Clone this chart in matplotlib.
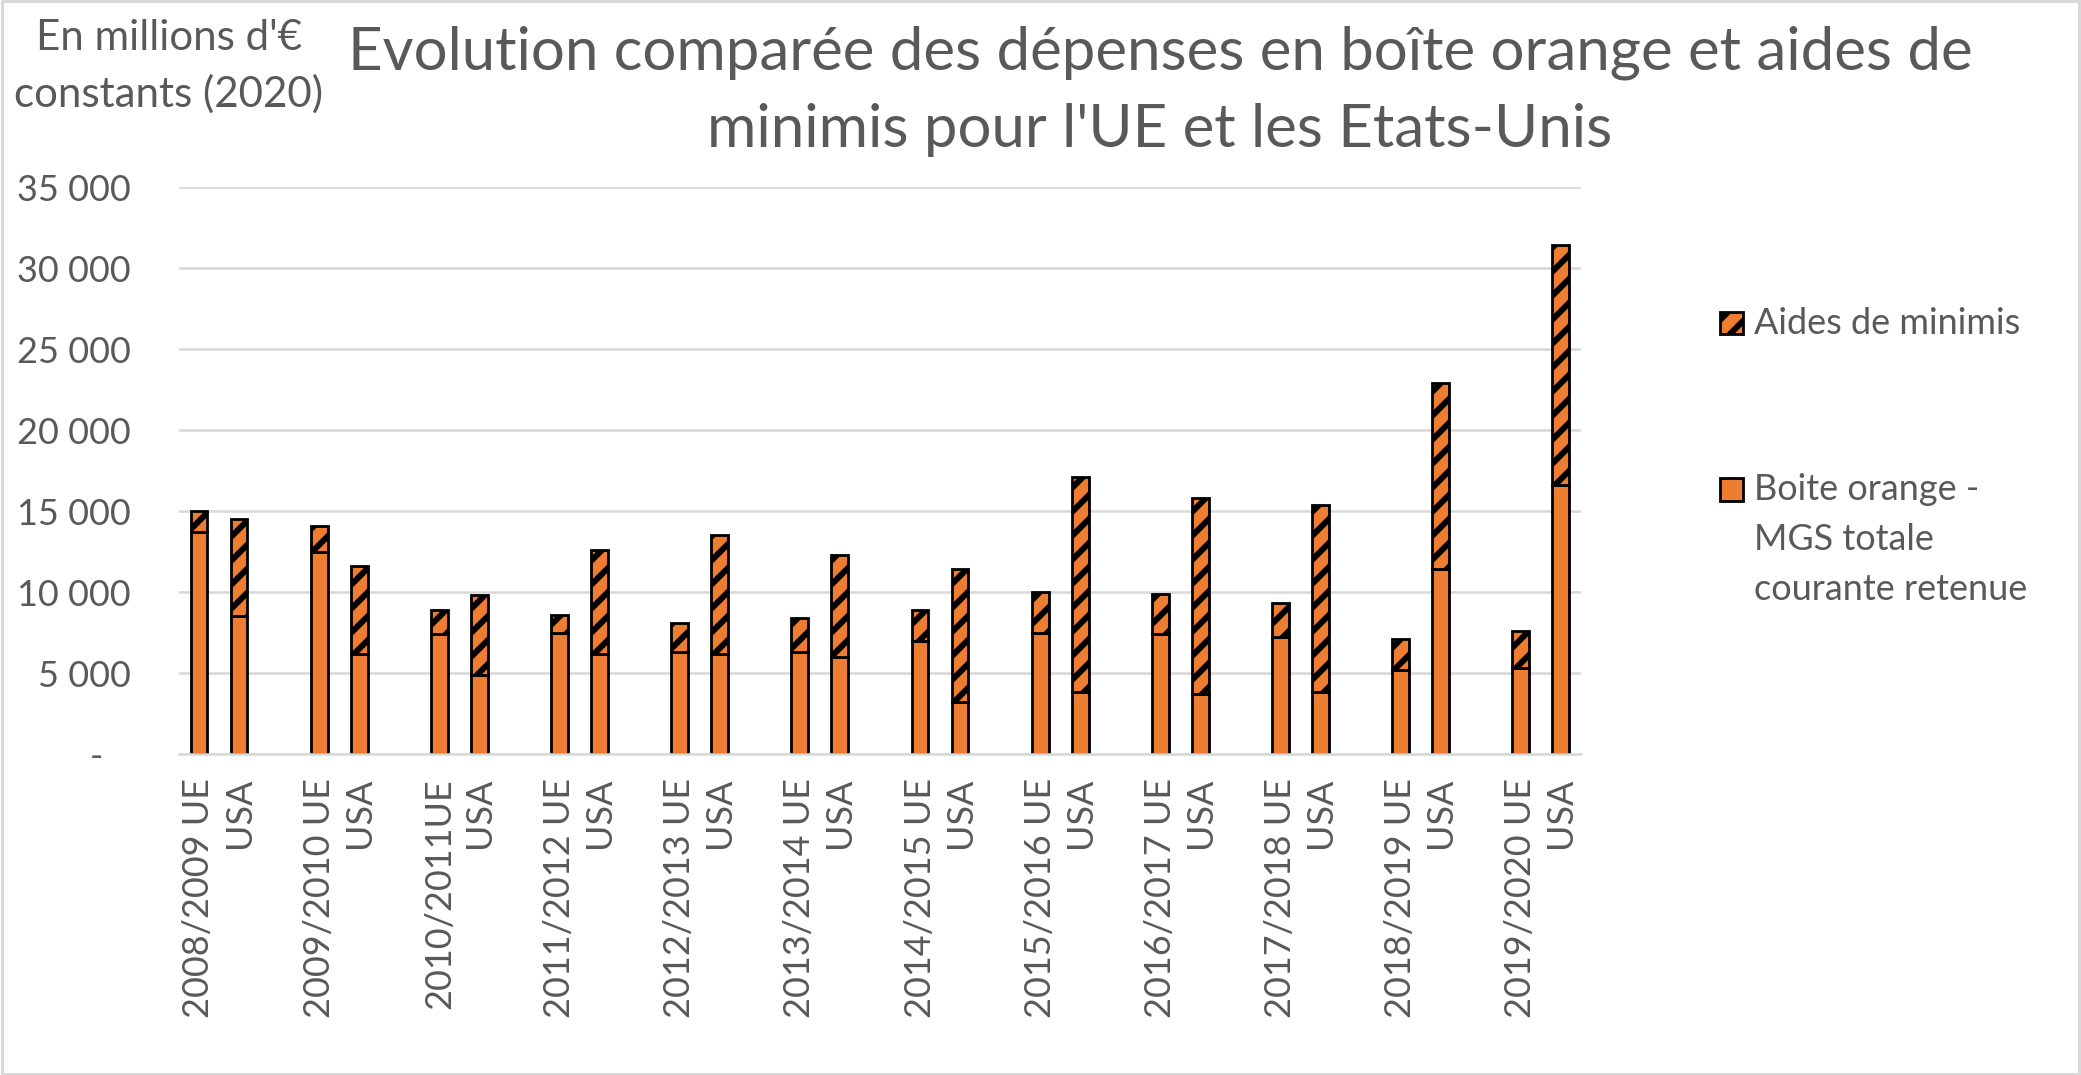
import numpy as np
import matplotlib.pyplot as plt
from matplotlib.patches import Rectangle

# valeurs (millions d'euros constants 2020)
ue_labels = ["2008/2009 UE", "2009/2010 UE", "2010/2011UE", "2011/2012 UE",
             "2012/2013 UE", "2013/2014 UE", "2014/2015 UE", "2015/2016 UE",
             "2016/2017 UE", "2017/2018 UE", "2018/2019 UE", "2019/2020 UE"]
usa_label = "USA"

ue_orange = [13700, 12500, 7400, 7500, 6300, 6300, 7000, 7500, 7400, 7200, 5200, 5300]
ue_minimis = [1300, 1600, 1500, 1100, 1800, 2100, 1900, 2500, 2500, 2100, 1900, 2300]
usa_orange = [8500, 6200, 4900, 6200, 6200, 6000, 3200, 3800, 3700, 3800, 11400, 16600]
usa_minimis = [6000, 5400, 4900, 6400, 7300, 6300, 8200, 13300, 12100, 11600, 11500, 14800]

yticks = [0, 5000, 10000, 15000, 20000, 25000, 30000, 35000]
ytick_labels = ["-   ", "5 000", "10 000", "15 000", "20 000", "25 000", "30 000", "35 000"]

plt.rcParams['font.family'] = ['Lato', 'DejaVu Sans']
plt.rcParams['hatch.linewidth'] = 3.0
plt.rcParams['hatch.color'] = 'black'

grey_txt = '#595959'
grey_line = '#d9d9d9'
orange = '#ED7D31'

DPI = 144
fig = plt.figure(figsize=(2081 / DPI, 1075 / DPI), dpi=DPI)
ax = fig.add_axes([0.086, 0.2986, 0.6737, 0.5274])

n = len(ue_labels)
x_ue = np.arange(n) * 3
x_usa = x_ue + 1
w = 0.42

ax.bar(x_ue, ue_orange, w, color=orange, edgecolor='black', lw=1.4)
ax.bar(x_ue, ue_minimis, w, bottom=ue_orange, color=orange, edgecolor='black', lw=1.4, hatch='//')
ax.bar(x_usa, usa_orange, w, color=orange, edgecolor='black', lw=1.4)
ax.bar(x_usa, usa_minimis, w, bottom=usa_orange, color=orange, edgecolor='black', lw=1.4, hatch='//')

# etiquettes : UE, USA, vide
xlabels = []
for lab in ue_labels:
    xlabels += [lab, usa_label, ""]
xlabels = xlabels[:-1]
ax.set_xticks(np.arange(len(xlabels)))
ax.set_xticklabels(xlabels, rotation=90, va='top', ha='center')
ax.set_xlim(-0.5, len(xlabels) - 0.5)

ax.set_ylim(0, 35000)
ax.set_yticks(yticks)
ax.set_yticklabels(ytick_labels)
ax.yaxis.grid(True, color=grey_line, lw=1.3)
ax.set_axisbelow(True)
for s in ['top', 'right', 'left']:
    ax.spines[s].set_visible(False)
ax.spines['bottom'].set_color(grey_line)
ax.spines['bottom'].set_linewidth(1.3)
ax.tick_params(length=0, colors=grey_txt, labelsize=18)
ax.tick_params(axis='y', pad=24)
ax.tick_params(axis='x', pad=12)

W, H = 2081.0, 1075.0

# titre
fig.text(1160 / W, 1 - 70 / H, "Evolution comparée des dépenses en boîte orange et aides de",
         ha='center', va='baseline', fontsize=30, color=grey_txt)
fig.text(1160 / W, 1 - 147 / H, "minimis pour l'UE et les Etats-Unis",
         ha='center', va='baseline', fontsize=30, color=grey_txt)

# unité
fig.text(169 / W, 1 - 50 / H, "En millions d'€", ha='center', va='baseline', fontsize=21, color=grey_txt)
fig.text(169 / W, 1 - 107 / H, "constants (2020)", ha='center', va='baseline', fontsize=21, color=grey_txt)

# légende
fig.patches.append(Rectangle((1720 / W, 1 - 334 / H), 23 / W, 22 / H, transform=fig.transFigure,
                             facecolor=orange, edgecolor='black', lw=1.4, hatch='//'))
fig.text(1754 / W, 1 - 334 / H, "Aides de minimis", va='baseline', fontsize=18, color=grey_txt)
fig.patches.append(Rectangle((1720 / W, 1 - 501 / H), 23 / W, 23 / H, transform=fig.transFigure,
                             facecolor=orange, edgecolor='black', lw=1.4))
for i, line in enumerate(["Boite orange -", "MGS totale", "courante retenue"]):
    fig.text(1754 / W, 1 - (500 + 50 * i) / H, line, va='baseline', fontsize=18, color=grey_txt)

# cadre
fig.patches.append(Rectangle((0.001, 0.001), 0.998, 0.998, transform=fig.transFigure,
                             facecolor='none', edgecolor=grey_line, lw=1.5))

fig.savefig('out.png', dpi=DPI)
